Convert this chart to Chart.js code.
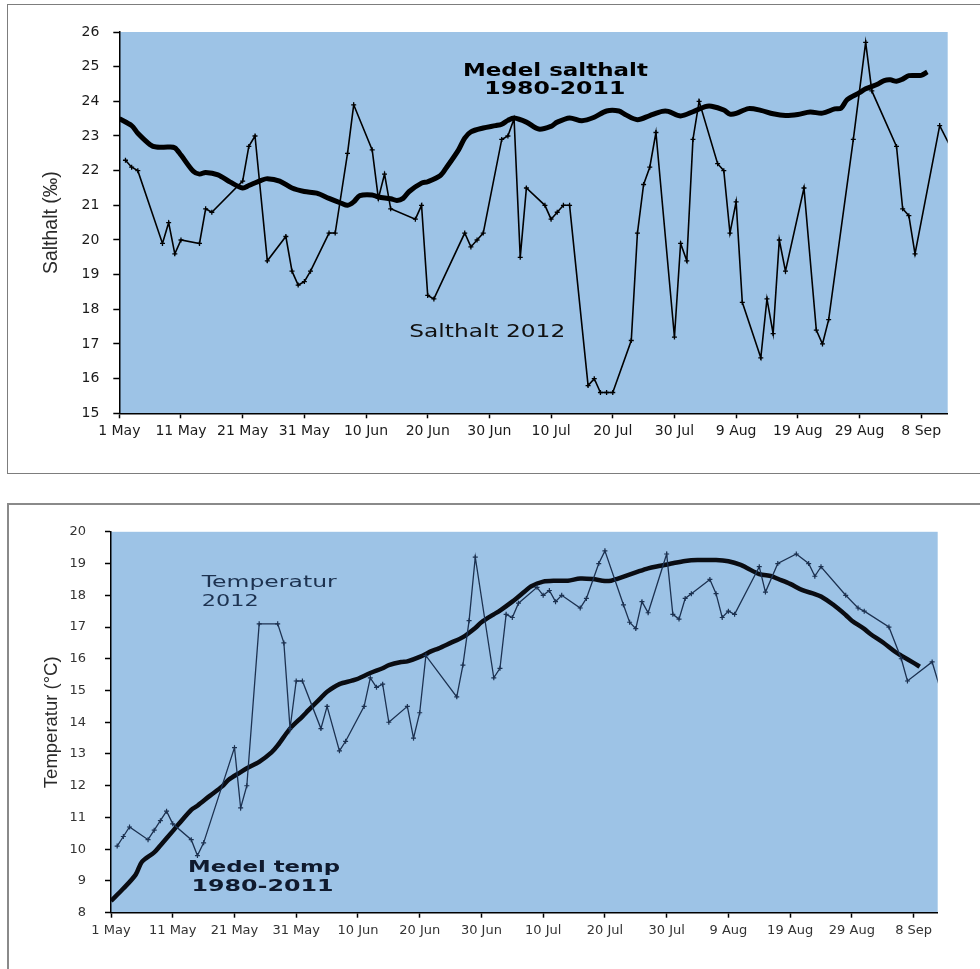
<!DOCTYPE html>
<html>
<head>
<meta charset="utf-8">
<script src="https://cdn.jsdelivr.net/npm/chart.js@4.4.1/dist/chart.umd.min.js"></script>
<style>
  html, body { margin: 0; padding: 0; background: #fff; overflow: hidden; }
  body { width: 980px; height: 969px; position: relative; }
  .frame { position: absolute; box-sizing: border-box; }
  #frame-salt { left: 7px; top: 4px; width: 990px; height: 470px; border: 1px solid #7d7d7d; }
  #frame-temp { left: 7px; top: 503px; width: 990px; height: 480px; border: 2px solid #8a8a8a; }
  canvas { position: absolute; }
  #chart-salt { left: 8px; top: 5px; }
  #chart-temp { left: 8px; top: 505px; }
</style>
</head>
<body>
<div class="frame" id="frame-salt"></div>
<div class="frame" id="frame-temp"></div>
<canvas id="chart-salt" width="972" height="467"></canvas>
<canvas id="chart-temp" width="972" height="464"></canvas>
<script>
// day 0 = 1 May 2012
const TICK_LABELS = [
  "1 May", "11 May", "21 May", "31 May", "10 Jun", "20 Jun", "30 Jun",
  "10 Jul", "20 Jul", "30 Jul", "9 Aug", "19 Aug", "29 Aug", "8 Sep",
]

// Salthalt 2012 (‰)
const SALT_2012_DAYS = [
  1, 2, 3, 7, 8, 9, 10, 13, 14, 15, 20, 21, 22, 24, 27, 28, 29, 30, 31, 34,
  35, 37, 38, 41, 42, 43, 44, 48, 49, 50, 51, 56, 57, 58, 59, 62, 63, 64, 65, 66,
  69, 70, 71, 72, 73, 76, 77, 78, 79, 80, 83, 84, 85, 86, 87, 90, 91, 92, 93, 94,
  97, 98, 99, 100, 101, 104, 105, 106, 107, 108, 111, 113, 114, 115, 119, 121, 122, 126, 127, 128,
  129, 133, 135,
]
const SALT_2012_VALUES = [
  22.3, 22.1, 22.0, 19.9, 20.5, 19.6, 20.0, 19.9, 20.9, 20.8, 21.7, 22.7, 23.0, 19.4, 20.1, 19.1, 18.7, 18.8, 19.1, 20.2,
  20.2, 22.5, 23.9, 22.6, 21.2, 21.9, 20.9, 20.6, 21.0, 18.4, 18.3, 20.2, 19.8, 20.0, 20.2, 22.9, 23.0, 23.5, 19.5, 21.5,
  21.0, 20.6, 20.8, 21.0, 21.0, 15.8, 16.0, 15.6, 15.6, 15.6, 17.1, 20.2, 21.6, 22.1, 23.1, 17.2, 19.9, 19.4, 22.9, 24.0,
  22.2, 22.0, 20.2, 21.1, 18.2, 16.6, 18.3, 17.3, 20.0, 19.1, 21.5, 17.4, 17.0, 17.7, 22.9, 25.7, 24.3, 22.7, 20.9, 20.7,
  19.6, 23.3, 22.6,
]

// Medel salthalt 1980-2011 (‰)
const SALT_MEAN_DAYS = [
  0, 2, 3, 5, 6, 8, 9, 10, 12, 13, 14, 16, 18, 20, 21, 23, 24, 26, 28, 30,
  32, 34, 36, 37, 38, 39, 41, 42, 44, 45, 46, 47, 49, 50, 52, 53, 55, 56, 57, 59,
  61, 62, 63, 64, 66, 68, 70, 71, 73, 75, 77, 79, 81, 82, 84, 86, 88, 89, 91, 93,
  95, 96, 98, 99, 100, 102, 104, 106, 108, 110, 112, 114, 116, 117, 118, 120, 121, 123, 124, 125,
  126, 127, 128, 130, 131,
]
const SALT_MEAN_VALUES = [
  23.5, 23.3, 23.08, 22.75, 22.68, 22.68, 22.66, 22.45, 21.98, 21.9, 21.95, 21.88, 21.67, 21.5, 21.57, 21.72, 21.77, 21.7, 21.5, 21.4,
  21.35, 21.2, 21.06, 21.0, 21.1, 21.28, 21.3, 21.24, 21.19, 21.14, 21.2, 21.4, 21.64, 21.68, 21.85, 22.08, 22.6, 22.94, 23.12, 23.23,
  23.3, 23.34, 23.45, 23.52, 23.4, 23.2, 23.28, 23.4, 23.52, 23.44, 23.54, 23.72, 23.72, 23.62, 23.47, 23.59, 23.71, 23.71, 23.58, 23.7,
  23.85, 23.86, 23.75, 23.63, 23.65, 23.79, 23.74, 23.64, 23.59, 23.62, 23.69, 23.66, 23.78, 23.8, 24.05, 24.25, 24.36, 24.5, 24.6, 24.62,
  24.58, 24.64, 24.74, 24.75, 24.85,
]

// Temperatur 2012 (°C)
const TEMP_2012_DAYS = [
  1, 2, 3, 6, 7, 8, 9, 10, 13, 14, 15, 20, 21, 22, 24, 27, 28, 29, 30, 31,
  34, 35, 37, 38, 41, 42, 43, 44, 45, 48, 49, 50, 51, 56, 57, 58, 59, 62, 63, 64,
  65, 66, 69, 70, 71, 72, 73, 76, 77, 79, 80, 83, 84, 85, 86, 87, 90, 91, 92, 93,
  94, 97, 98, 99, 100, 101, 105, 106, 108, 111, 113, 114, 115, 119, 121, 122, 126, 128, 129, 133,
  135,
]
const TEMP_2012_VALUES = [
  10.1, 10.4, 10.7, 10.3, 10.6, 10.9, 11.2, 10.8, 10.3, 9.8, 10.2, 13.2, 11.3, 12.0, 17.1, 17.1, 16.5, 13.8, 15.3, 15.3,
  13.8, 14.5, 13.1, 13.4, 14.5, 15.4, 15.1, 15.2, 14.0, 14.5, 13.5, 14.3, 16.1, 14.8, 15.8, 17.2, 19.2, 15.4, 15.7, 17.4,
  17.3, 17.75, 18.25, 18.0, 18.15, 17.8, 18.0, 17.6, 17.9, 19.0, 19.4, 17.7, 17.15, 16.95, 17.8, 17.45, 19.3, 17.4, 17.25, 17.9,
  18.05, 18.5, 18.05, 17.3, 17.5, 17.4, 18.9, 18.1, 19.0, 19.3, 19.0, 18.6, 18.9, 18.0, 17.6, 17.5, 17.0, 16.0, 15.3, 15.9,
  14.6,
]

// Medel temp 1980-2011 (°C)
const TEMP_MEAN_DAYS = [
  0, 2, 4, 5, 7, 8, 10, 11, 13, 14, 16, 18, 19, 21, 22, 24, 26, 27, 29, 31,
  32, 34, 35, 37, 39, 40, 42, 44, 45, 47, 48, 50, 52, 53, 55, 57, 59, 60, 62, 63,
  65, 67, 68, 70, 72, 74, 76, 78, 80, 81, 82, 85, 87, 89, 91, 93, 95, 98, 100, 102,
  103, 105, 107, 108, 110, 112, 114, 115, 117, 119, 120, 122, 123, 125, 127, 128, 130, 131,
]
const TEMP_MEAN_VALUES = [
  8.37, 8.76, 9.2, 9.6, 9.9, 10.12, 10.57, 10.8, 11.24, 11.37, 11.68, 11.98, 12.18, 12.43, 12.55, 12.75, 13.05, 13.27, 13.8, 14.18,
  14.38, 14.77, 14.96, 15.2, 15.31, 15.37, 15.55, 15.7, 15.8, 15.9, 15.92, 16.06, 16.25, 16.32, 16.5, 16.68, 16.97, 17.15, 17.4, 17.52,
  17.8, 18.12, 18.28, 18.43, 18.46, 18.46, 18.53, 18.51, 18.45, 18.46, 18.52, 18.72, 18.85, 18.93, 19.01, 19.08, 19.11, 19.11, 19.07, 18.96,
  18.86, 18.67, 18.6, 18.52, 18.36, 18.16, 18.04, 17.96, 17.7, 17.38, 17.2, 16.94, 16.78, 16.52, 16.22, 16.1, 15.87, 15.75,
]

const PLOT_BG = "#9dc3e6"

function toPoints(days, values) {
  return days.map((day, i) => ({ x: day, y: values[i] }))
}

const plotBackground = {
  id: "plotBackground",
  beforeDraw(chart) {
    const { ctx, chartArea } = chart
    ctx.save()
    ctx.fillStyle = PLOT_BG
    ctx.fillRect(chartArea.left, chartArea.top, chartArea.right - chartArea.left, chartArea.bottom - chartArea.top)
    ctx.restore()
  },
}

// text labels inside the plot, placed in data units and stretched to the reference width
const plotLabels = {
  id: "plotLabels",
  afterDraw(chart, args, opts) {
    const { ctx, scales } = chart
    for (const item of opts.items || []) {
      const px = scales.x.getPixelForValue(item.x)
      const py = scales.y.getPixelForValue(item.y)
      ctx.save()
      ctx.font = item.font
      const w = ctx.measureText(item.text).width
      ctx.translate(px, py)
      ctx.scale(item.width / w, 1)
      ctx.fillStyle = item.color
      ctx.textAlign = item.align
      ctx.textBaseline = "middle"
      ctx.fillText(item.text, 0, 0)
      ctx.restore()
    }
  },
}

function axisOptions({ xMax, yMin, yMax, yTitle, tickColor, tickSize, yPad, axisWidth, axisHeight, titleSize }) {
  return {
    x: {
      type: "linear",
      min: 0,
      max: xMax,
      afterFit(scale) { scale.height = axisHeight },
      border: { display: true, color: "#000", width: 1.5 },
      grid: { display: true, drawOnChartArea: false, drawTicks: true, tickLength: 5, tickColor: "#000", tickWidth: 1.5 },
      ticks: {
        stepSize: 10,
        includeBounds: false,
        autoSkip: false,
        maxRotation: 0,
        padding: 5,
        color: tickColor,
        font: { family: "DejaVu Sans", size: tickSize },
        callback: (value) => TICK_LABELS[Math.round(value / 10)] ?? "",
      },
    },
    y: {
      min: yMin,
      max: yMax,
      afterFit(scale) { scale.width = axisWidth },
      border: { display: true, color: "#000", width: 1.5 },
      grid: { display: true, drawOnChartArea: false, drawTicks: true, tickLength: 6, tickColor: "#000", tickWidth: 1.5 },
      ticks: {
        stepSize: 1,
        padding: yPad,
        color: tickColor,
        font: { family: "DejaVu Sans", size: tickSize },
      },
      title: {
        display: true,
        text: yTitle,
        color: "#2a2a2a",
        font: { family: "'Liberation Sans Narrow', 'Liberation Sans', sans-serif", size: titleSize },
        padding: { top: 44 - titleSize * 0.6, bottom: 0 },
      },
    },
  }
}

new Chart(document.getElementById("chart-salt"), {
  type: "line",
  data: {
    datasets: [
      {
        label: "Salthalt 2012",
        data: toPoints(SALT_2012_DAYS, SALT_2012_VALUES),
        borderColor: "#000",
        borderWidth: 1.6,
        tension: 0,
        pointStyle: "cross",
        pointRadius: 2.5,
        pointBorderWidth: 1.3,
        pointBorderColor: "#000",
        clip: 0,
      },
      {
        label: "Medel salthalt 1980-2011",
        data: toPoints(SALT_MEAN_DAYS, SALT_MEAN_VALUES),
        borderColor: "#000",
        borderWidth: 5,
        tension: 0.3,
        pointRadius: 0,
        clip: 0,
      },
    ],
  },
  options: {
    responsive: false,
    animation: false,
    devicePixelRatio: 1,
    layout: { padding: { left: 0, top: 27, right: 32.3, bottom: 0 } },
    plugins: {
      legend: { display: false },
      tooltip: { enabled: false },
      plotLabels: {
        items: [
          { text: "Medel salthalt", x: 70.7, y: 24.87, width: 185, align: "center", font: "bold 17px 'DejaVu Sans'", color: "#000" },
          { text: "1980-2011", x: 70.6, y: 24.35, width: 141, align: "center", font: "bold 17px 'DejaVu Sans'", color: "#000" },
          { text: "Salthalt 2012", x: 47.0, y: 17.34, width: 156, align: "left", font: "17px 'DejaVu Sans'", color: "#111" },
        ],
      },
    },
    scales: axisOptions({
      xMax: 134.3, yMin: 15, yMax: 26, yTitle: "Salthalt (‰)", tickColor: "#1a1a1a",
      tickSize: 14, yPad: 14, axisWidth: 111.3, axisHeight: 58.7, titleSize: 19.5,
    }),
  },
  plugins: [plotBackground, plotLabels],
})

new Chart(document.getElementById("chart-temp"), {
  type: "line",
  data: {
    datasets: [
      {
        label: "Temperatur 2012",
        data: toPoints(TEMP_2012_DAYS, TEMP_2012_VALUES),
        borderColor: "#1c3150",
        borderWidth: 1.3,
        tension: 0,
        pointStyle: "cross",
        pointRadius: 2.5,
        pointBorderWidth: 1.2,
        pointBorderColor: "#1c3150",
        clip: 0,
      },
      {
        label: "Medel temp 1980-2011",
        data: toPoints(TEMP_MEAN_DAYS, TEMP_MEAN_VALUES),
        borderColor: "#0a0c12",
        borderWidth: 4.5,
        tension: 0.3,
        pointRadius: 0,
        clip: 0,
      },
    ],
  },
  options: {
    responsive: false,
    animation: false,
    devicePixelRatio: 1,
    layout: { padding: { left: 0, top: 24, right: 42.3, bottom: 0 } },
    plugins: {
      legend: { display: false },
      tooltip: { enabled: false },
      plotLabels: {
        items: [
          { text: "Temperatur", x: 14.69, y: 18.38, width: 135, align: "left", font: "15px 'DejaVu Sans'", color: "#1d3250" },
          { text: "2012", x: 14.69, y: 17.8, width: 57, align: "left", font: "15px 'DejaVu Sans'", color: "#1d3250" },
          { text: "Medel temp", x: 24.8, y: 9.41, width: 152, align: "center", font: "bold 16px 'DejaVu Sans'", color: "#0f1a2e" },
          { text: "1980-2011", x: 24.53, y: 8.81, width: 142, align: "center", font: "bold 16px 'DejaVu Sans'", color: "#0f1a2e" },
        ],
      },
    },
    scales: axisOptions({
      xMax: 133.9, yMin: 8, yMax: 20, yTitle: "Temperatur (°C)", tickColor: "#333",
      tickSize: 13, yPad: 19, axisWidth: 103, axisHeight: 56.3, titleSize: 18.5,
    }),
  },
  plugins: [plotBackground, plotLabels],
})
</script>
</body>
</html>
